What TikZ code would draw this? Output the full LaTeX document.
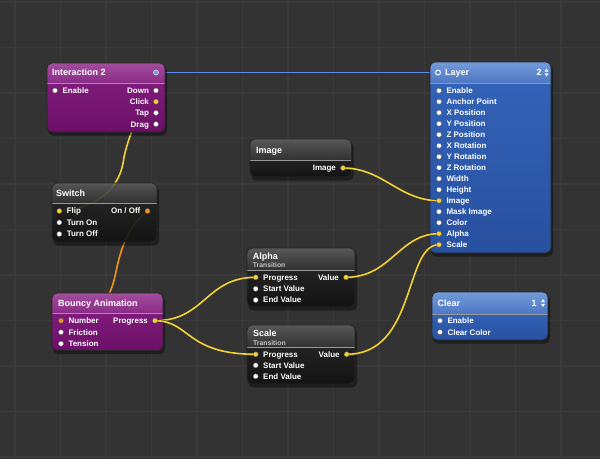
\documentclass[tikz,border=0pt]{standalone}
\usepackage{fontspec}
\setmainfont{Liberation Sans}
\usetikzlibrary{calc}
\pgfdeclarelayer{gridlayer}
\pgfdeclarelayer{wback}
\pgfdeclarelayer{boxes}
\pgfdeclarelayer{wfront}
\pgfsetlayers{gridlayer,wback,boxes,wfront,main}

\definecolor{bg}{HTML}{333333}
\definecolor{gridc}{HTML}{3A3A3A}
\definecolor{purpTop}{HTML}{A24D9E}
\definecolor{purpBot}{HTML}{8A2C86}
\definecolor{purpBody1}{HTML}{7E1B7A}
\definecolor{purpBody2}{HTML}{6C0F68}
\definecolor{blueTop}{HTML}{729BDA}
\definecolor{blueBot}{HTML}{4D77C3}
\definecolor{blueBody1}{HTML}{3262B6}
\definecolor{blueBody2}{HTML}{2950A0}
\definecolor{darkTop}{HTML}{5E5E5E}
\definecolor{darkBot}{HTML}{343434}
\definecolor{darkBody1}{HTML}{232323}
\definecolor{darkBody2}{HTML}{121212}
\definecolor{wireY}{HTML}{F4D232}
\definecolor{wireO}{HTML}{EE9422}
\definecolor{wireB}{HTML}{5A8CE8}
\definecolor{subt}{HTML}{C4C4C4}

% #1 name, #2 x1, #3 y1, #4 x2, #5 y2, #6 header bottom, #7 colour family, #8 body opacity
\newcommand{\qcbox}[8]{%
  \begin{pgfonlayer}{boxes}
  \fill[black,opacity=0.4,rounded corners=5pt] ({#2+1},{#3+2.5}) rectangle ({#4+2},{#5+3.5});
  \begin{scope}
    \clip[rounded corners=5pt] (#2,#3) rectangle (#4,#5);
    \shade[top color=#7Body1, bottom color=#7Body2, fill opacity=#8] (#2,#6) rectangle (#4,#5);
    \shade[top color=#7Top, bottom color=#7Bot, fill opacity=#8] (#2,#3) rectangle (#4,#6);
    \draw[black!40, line width=0.4pt] (#2,#6) -- (#4,#6);
  \end{scope}
  \node[qcframe, minimum width={#4pt-#2pt}, minimum height={#5pt-#3pt}] (#1) at ({(#2+#4)/2},{(#3+#5)/2}) {};
  \end{pgfonlayer}%
}
\newcommand{\qcin}[5]{%
  \node[port=#2] (#1) at (#3,#4) {};
  \node[lbl, anchor=base west] (#1-l) at ({#3+7.3},{#4+2.9}) {#5};%
}
\newcommand{\qcout}[5]{%
  \node[port=#2] (#1) at (#3,#4) {};
  \node[lbl, anchor=base east] (#1-l) at ({#3-6.9},{#4+2.9}) {#5};%
}

\begin{document}
\begin{tikzpicture}[x=1pt,y=-1pt,
  qcframe/.style={draw=black!85, line width=0.8pt, rounded corners=5pt, inner sep=0pt},
  ttl/.style={text=white, font=\bfseries\fontsize{9}{10}\selectfont, inner sep=0pt},
  lbl/.style={text=white, font=\bfseries\fontsize{8}{9}\selectfont, inner sep=0pt},
  subttl/.style={text=subt, font=\bfseries\fontsize{6.8}{7}\selectfont, inner sep=0pt},
  port/.style={circle, fill=#1, draw=black!60, line width=0.3pt, inner sep=0pt, minimum size=5pt},
  wire/.style={draw=#1, line width=1.6pt, preaction={draw=black!80, line width=2.8pt}},
  updown/.style={fill=white}
]
\useasboundingbox (0,0) rectangle (600,459);
\begin{pgfonlayer}{gridlayer}
  \fill[bg] (0,0) rectangle (600,459);
  \foreach \i in {0,...,13} {\draw[gridc, line width=1.1pt] ({15+45.5*\i},0) -- ({15+45.5*\i},459);}
  \foreach \i in {0,...,10} {\draw[gridc, line width=1.1pt] (0,{2+45.5*\i}) -- (600,{2+45.5*\i});}
\end{pgfonlayer}

% ---------- boxes ----------
\qcbox{int}{47}{63}{165}{132}{83}{purp}{1}
\qcbox{ly}{430}{62}{551}{253}{83}{blue}{1}
\qcbox{sw}{52}{183}{157}{242}{203}{dark}{0.86}
\qcbox{img}{250}{139}{351.5}{177}{160}{dark}{0.9}
\qcbox{al}{247}{248}{355}{307}{270}{dark}{0.9}
\qcbox{sc}{247}{325}{355}{384}{347}{dark}{0.9}
\qcbox{ba}{52}{293}{163}{350.5}{313}{purp}{1}
\qcbox{cl}{432}{292}{548}{340}{314}{blue}{1}

% ---------- Interaction 2 ----------
\node[ttl, anchor=base west] (int-t) at (52,75.6) {Interaction 2};
\node[circle, fill=wireB!85!white, draw=white!85!black, line width=0.6pt, minimum size=5pt, inner sep=0pt] (int-out) at (156,72.5) {};
\qcin{int-enable}{white}{55}{90.5}{Enable}
\qcout{int-down}{white}{156}{90.5}{Down}
\qcout{int-click}{wireY}{156}{101.7}{Click}
\qcout{int-tap}{white}{156}{112.9}{Tap}
\qcout{int-drag}{white}{156}{124.1}{Drag}

% ---------- Layer ----------
\node[circle, draw=white, line width=0.9pt, inner sep=0pt, minimum size=5pt] (ly-in) at (438,72.5) {};
\node[ttl, anchor=base west] (ly-t) at (445,75.6) {Layer};
\node[ttl, anchor=base west] (ly-n) at (536.5,75.6) {2};
\fill[updown] (544.6,71.6) -- (548.4,71.6) -- (546.5,68.6) -- cycle;
\fill[updown] (544.6,73.4) -- (548.4,73.4) -- (546.5,76.4) -- cycle;
\qcin{ly-enable}{white}{439}{90.7}{Enable}
\qcin{ly-anchor}{white}{439}{101.7}{Anchor Point}
\qcin{ly-xpos}{white}{439}{112.7}{X Position}
\qcin{ly-ypos}{white}{439}{123.7}{Y Position}
\qcin{ly-zpos}{white}{439}{134.7}{Z Position}
\qcin{ly-xrot}{white}{439}{145.7}{X Rotation}
\qcin{ly-yrot}{white}{439}{156.7}{Y Rotation}
\qcin{ly-zrot}{white}{439}{167.7}{Z Rotation}
\qcin{ly-width}{white}{439}{178.7}{Width}
\qcin{ly-height}{white}{439}{189.7}{Height}
\qcin{ly-image}{wireY}{439}{200.7}{Image}
\qcin{ly-mask}{white}{439}{211.7}{Mask Image}
\qcin{ly-color}{white}{439}{222.7}{Color}
\qcin{ly-alpha}{wireY}{439}{233.7}{Alpha}
\qcin{ly-scale}{wireY}{439}{244.7}{Scale}

% ---------- Switch ----------
\node[ttl, anchor=base west] (sw-t) at (56,196.3) {Switch};
\qcin{sw-flip}{wireY}{59.3}{211}{Flip}
\qcin{sw-on}{white}{59.3}{222.5}{Turn On}
\qcin{sw-off}{white}{59.3}{234}{Turn Off}
\qcout{sw-onoff}{wireO}{147.5}{211}{On / Off}

% ---------- Image ----------
\node[ttl, anchor=base west] (img-t) at (256,153.3) {Image};
\qcout{img-out}{wireY}{343}{168}{Image}

% ---------- Alpha ----------
\node[ttl, anchor=base west] (al-t) at (252.7,259.8) {Alpha};
\node[subttl, anchor=base west] (al-s) at (252.7,267.8) {Transition};
\qcin{al-prog}{wireY}{255.7}{277.3}{Progress}
\qcin{al-start}{white}{255.7}{288.8}{Start Value}
\qcin{al-end}{white}{255.7}{300}{End Value}
\qcout{al-out}{wireY}{346}{277.3}{Value}

% ---------- Scale ----------
\node[ttl, anchor=base west] (sc-t) at (253,336.6) {Scale};
\node[subttl, anchor=base west] (sc-s) at (253,345.2) {Transition};
\qcin{sc-prog}{wireY}{255.7}{354.3}{Progress}
\qcin{sc-start}{white}{255.7}{365.3}{Start Value}
\qcin{sc-end}{white}{255.7}{376.3}{End Value}
\qcout{sc-out}{wireY}{346.7}{354.3}{Value}

% ---------- Bouncy Animation ----------
\node[ttl, anchor=base west] (ba-t) at (58,306.5) {Bouncy Animation};
\qcin{ba-number}{wireO}{61}{320.7}{Number}
\qcin{ba-friction}{white}{61}{332.2}{Friction}
\qcin{ba-tension}{white}{61}{343.7}{Tension}
\qcout{ba-prog}{wireY}{155}{320.7}{Progress}

% ---------- Clear ----------
\node[ttl, anchor=base west] (cl-t) at (437.3,306.5) {Clear};
\node[ttl, anchor=base west] (cl-n) at (531.5,306.5) {1};
\fill[updown] (541.1,302.1) -- (544.9,302.1) -- (543,299.1) -- cycle;
\fill[updown] (541.1,303.9) -- (544.9,303.9) -- (543,306.9) -- cycle;
\qcin{cl-enable}{white}{440}{320.7}{Enable}
\qcin{cl-color}{white}{440}{332.2}{Clear Color}

% ---------- wires behind boxes ----------
\coordinate (w1) at (124,157);
\coordinate (w2) at (117,267);
\begin{pgfonlayer}{wback}
  \draw[wire=wireB, line width=1.3pt] (int-out.center) -- (ly-in.center);
  \draw[wire=wireY] (int-click.center) .. controls +(-20,15) and +(6,-25) .. (w1)
        .. controls +(-3,30) and +(40,-3) .. (sw-flip.center);
  \draw[wire=wireO] (sw-onoff.center) .. controls +(-18,14) and +(5,-22) .. (w2)
        .. controls +(-5,25) and +(45,-3) .. (ba-number.center);
\end{pgfonlayer}

% ---------- wires in front ----------
\begin{pgfonlayer}{wfront}
  \draw[wire=wireY] (img-out.center) .. controls +(40,0) and +(-40,0) .. (ly-image.center);
  \draw[wire=wireY] (al-out.center) .. controls +(45,0) and +(-40,0) .. (ly-alpha.center);
  \draw[wire=wireY] (sc-out.center) .. controls +(70,0) and +(-35,0) .. (ly-scale.center);
  \draw[wire=wireY] (ba-prog.center) .. controls +(50,0) and +(-50,0) .. (al-prog.center);
  \draw[wire=wireY] (ba-prog.center) .. controls +(35,0) and +(-70,0) .. (sc-prog.center);
\end{pgfonlayer}
\end{tikzpicture}
\end{document}
